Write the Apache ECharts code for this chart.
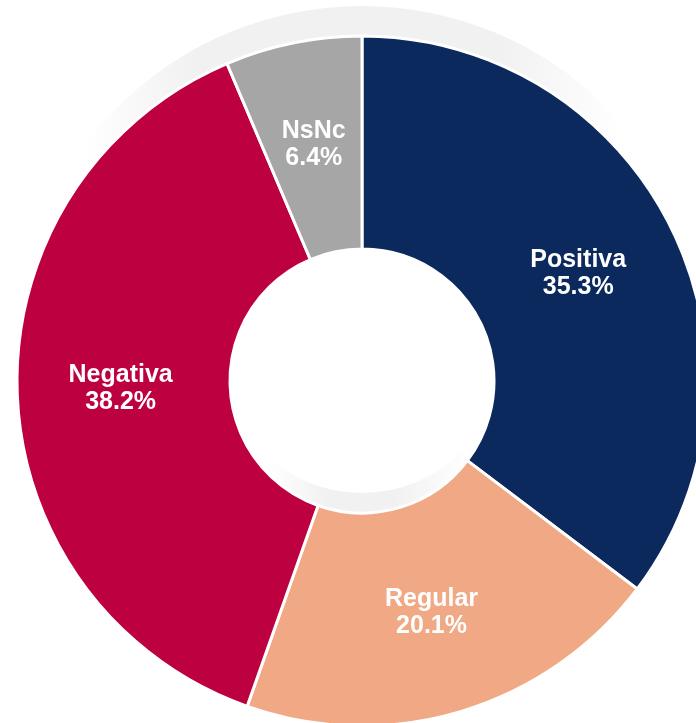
<!DOCTYPE html>
<html>
<head>
<meta charset="utf-8">
<script src="https://cdn.jsdelivr.net/npm/echarts@6/dist/echarts.min.js"></script>
<style>
  html, body { margin: 0; padding: 0; background: #fff; }
  #chart { width: 696px; height: 723px; }
</style>
</head>
<body>
<div id="chart"></div>
<script>
// categorias y porcentajes
const categories = ["Positiva", "Regular", "Negativa", "NsNc"];
const values = [35.3, 20.1, 38.2, 6.4];
const colors = ["#0c295e", "#f0a984", "#bd003f", "#a6a6a6"];

const myChart = echarts.init(document.getElementById("chart"));

// sombra gris detras del anillo (borde exterior y hueco)
const outerShadow = new echarts.graphic.LinearGradient(0, 0, 1, 0, [
  { offset: 0, color: "#ffffff" },
  { offset: 0.1, color: "#ffffff" },
  { offset: 0.26, color: "#f1f1f1" },
  { offset: 0.7, color: "#f1f1f1" },
  { offset: 0.87, color: "#ffffff" },
  { offset: 1, color: "#ffffff" }
]);
const holeShadow = new echarts.graphic.LinearGradient(0, 0, 1, 0, [
  { offset: 0, color: "#ffffff" },
  { offset: 0.26, color: "#ffffff" },
  { offset: 0.42, color: "#f1f1f1" },
  { offset: 0.58, color: "#f1f1f1" },
  { offset: 0.77, color: "#ffffff" },
  { offset: 1, color: "#ffffff" }
]);

myChart.setOption({
  animation: false,
  series: [
    {
      name: "sombra",
      type: "pie",
      silent: true,
      center: [362, 352],
      radius: [290, 346],
      label: { show: false },
      labelLine: { show: false },
      itemStyle: { color: outerShadow },
      data: [{ value: 1, name: "" }]
    },
    {
      name: "sombra2",
      type: "pie",
      silent: true,
      center: [362, 352],
      radius: [141, 200],
      label: { show: false },
      labelLine: { show: false },
      itemStyle: { color: holeShadow },
      data: [{ value: 1, name: "" }]
    },
    {
      name: "Opinion",
      type: "pie",
      center: [362, 381],
      radius: [132, 345],
      startAngle: 90,
      clockwise: true,
      avoidLabelOverlap: false,
      itemStyle: {
        borderColor: "#ffffff",
        borderWidth: 3
      },
      label: {
        show: true,
        position: "inside",
        color: "#ffffff",
        fontFamily: "Liberation Sans, Arial, Helvetica, sans-serif",
        fontWeight: "bold",
        fontSize: 25,
        lineHeight: 27,
        formatter: function (p) {
          return p.name + "\n" + p.value.toFixed(1) + "%";
        }
      },
      labelLine: { show: false },
      data: categories.map(function (name, i) {
        return { name: name, value: values[i], itemStyle: { color: colors[i] } };
      })
    }
  ]
});
</script>
</body>
</html>
